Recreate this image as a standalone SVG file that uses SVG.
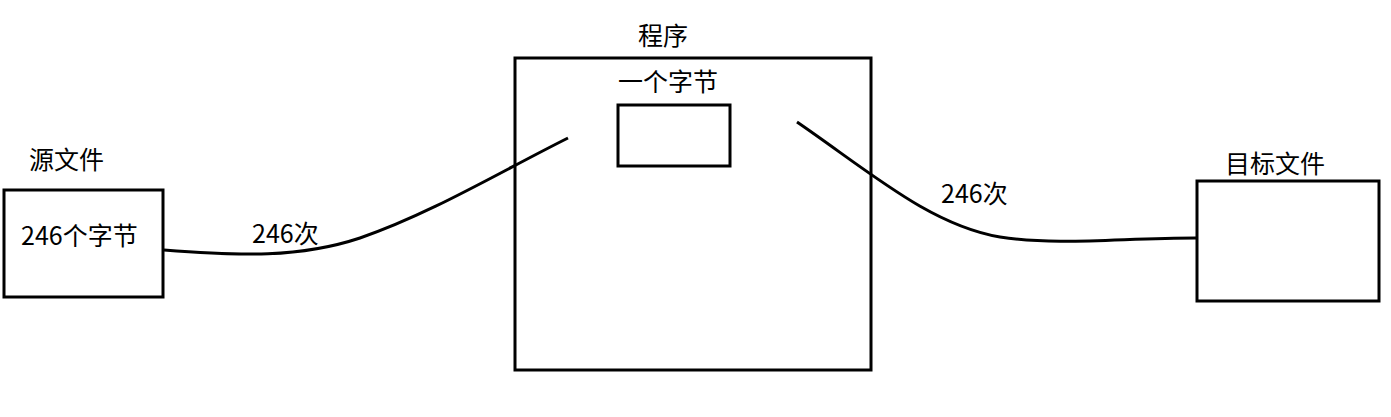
<svg xmlns="http://www.w3.org/2000/svg" width="1391" height="417" viewBox="0 0 1391 417">
<style>
.box{fill:none;stroke:#000;stroke-width:3}
.line{fill:none;stroke:#000;stroke-width:3}
text{font-family:"Microsoft YaHei","Noto Sans CJK SC",sans-serif;font-size:25px;fill:#000}
</style>
<rect width="1391" height="417" fill="#fff"/>
<g id="connectors">
<path class="line" d="M164,250 C240,256 300,258 360,238 C430,214 500,172 568,138"/>
<path class="line" d="M797,122 C870,172 930,225 1000,237 C1060,246 1120,238 1196,238"/>
<text x="252" y="243">246次</text>
<text x="941" y="203">246次</text>
</g>
<g id="source">
<text x="29" y="169">源文件</text>
<rect class="box" x="4" y="190" width="159" height="107"/>
<text x="21" y="245">246个字节</text>
</g>
<g id="program">
<text x="638" y="45">程序</text>
<rect class="box" x="515" y="58" width="356" height="312"/>
</g>
<g id="byte">
<text x="618" y="91">一个字节</text>
<rect class="box" x="618" y="105" width="112" height="61"/>
</g>
<g id="target">
<text x="1225" y="173">目标文件</text>
<rect class="box" x="1197" y="181" width="182" height="120"/>
</g>
</svg>
